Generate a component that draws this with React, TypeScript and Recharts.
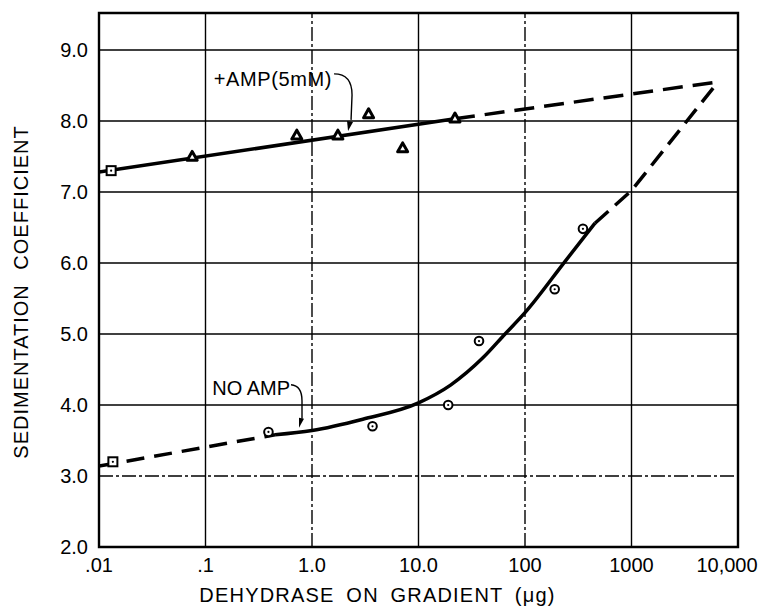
import React from 'react';
import {
    ComposedChart,
    XAxis,
    YAxis,
    Line,
    Scatter,
    ReferenceLine,
    ReferenceArea,
    ReferenceDot,
    Label
} from 'recharts';

// Axis ticks
const xTicks = [0.01, 0.1, 1, 10, 100, 1000, 10000];
const xTickLabels = ['.01', '.1', '1.0', '10.0', '100', '1000', '10,000'];
const yTicks = [2, 3, 4, 5, 6, 7, 8, 9];
const yTickLabels = ['2.0', '3.0', '4.0', '5.0', '6.0', '7.0', '8.0', '9.0'];

// Measured points, + AMP (5mM)
const ampPoints = [
    { x: 0.075, y: 7.5 },
    { x: 0.72, y: 7.8 },
    { x: 1.75, y: 7.8 },
    { x: 3.4, y: 8.1 },
    { x: 7.1, y: 7.62 },
    { x: 22, y: 8.04 }
];

// Measured points, no AMP
const noAmpPoints = [
    { x: 0.39, y: 3.62 },
    { x: 3.7, y: 3.7 },
    { x: 19, y: 4.0 },
    { x: 37, y: 4.9 },
    { x: 190, y: 5.63 },
    { x: 350, y: 6.48 }
];

// Square markers at the lowest load
const squarePoints = [
    { x: 0.013, y: 7.3 },
    { x: 0.0135, y: 3.2 }
];

// Drawn curves
const ampFit = [
    { x: 0.01, y: 7.28 },
    { x: 22, y: 8.03 }
];
const ampExtrap = [
    { x: 22, y: 8.03 },
    { x: 6500, y: 8.55 }
];
const noAmpExtrapLow = [
    { x: 0.01, y: 3.14 },
    { x: 0.45, y: 3.58 }
];
const noAmpFit = [
    { x: 0.45, y: 3.58 },
    { x: 1.0, y: 3.64 },
    { x: 3, y: 3.8 },
    { x: 10, y: 4.03 },
    { x: 20, y: 4.28 },
    { x: 40, y: 4.66 },
    { x: 65, y: 5.0 },
    { x: 100, y: 5.3 },
    { x: 240, y: 6.03 },
    { x: 454, y: 6.56 }
];
const noAmpExtrapHigh = [
    { x: 454, y: 6.56 },
    { x: 1000, y: 7.02 },
    { x: 6500, y: 8.55 }
];

const FONT = '"Liberation Sans", Arial, sans-serif';
const dashDotX = [1, 100];
const dashDotY = [3];

const XTick = (props: any) => {
    const { x, y, payload } = props;
    const label = xTickLabels[xTicks.indexOf(payload.value)];
    const shift = payload.value === 10000 ? -11 : 0;
    return (
        <text x={x + shift} y={y + 25} textAnchor="middle" fontSize={20} fontFamily={FONT} fill="#000">
            {label}
        </text>
    );
};

const YTick = (props: any) => {
    const { x, y, payload } = props;
    const label = yTickLabels[yTicks.indexOf(payload.value)];
    return (
        <text x={x - 11} y={y + 7} textAnchor="end" fontSize={20} fontFamily={FONT} fill="#000">
            {label}
        </text>
    );
};

const TriangleMark = (props: any) => {
    const { cx, cy } = props;
    return (
        <polygon
            points={`${cx},${cy - 5} ${cx + 5},${cy + 3.8} ${cx - 5},${cy + 3.8}`}
            fill="#fff"
            stroke="#000"
            strokeWidth={3}
            strokeLinejoin="round"
        />
    );
};

const CircleMark = (props: any) => {
    const { cx, cy } = props;
    return (
        <g>
            <circle cx={cx} cy={cy} r={4.3} fill="#fff" stroke="#000" strokeWidth={2} />
            <circle cx={cx} cy={cy} r={1.1} fill="#000" />
        </g>
    );
};

const SquareMark = (props: any) => {
    const { cx, cy } = props;
    return (
        <g>
            <rect x={cx - 4.5} y={cy - 4.5} width={9} height={9} fill="#fff" stroke="#000" strokeWidth={2} />
            <circle cx={cx} cy={cy} r={1.1} fill="#000" />
        </g>
    );
};

// Annotation text with a curved leader ending at the curve
const AmpNote = (props: any) => {
    const { cx, cy } = props;
    return (
        <g>
            <text x={cx - 16} y={cy - 45} textAnchor="end" fontSize={20} fontFamily={FONT} fill="#000" letterSpacing={0.6}>
                +AMP(5mM)
            </text>
            <path
                d={`M ${cx - 14} ${cy - 57} Q ${cx + 4} ${cy - 57} ${cx + 4} ${cy - 36} L ${cx + 3} ${cy - 11}`}
                fill="none"
                stroke="#000"
                strokeWidth={1.4}
            />
            <polygon points={`${cx},${cy} ${cx - 1},${cy - 10} ${cx + 5},${cy - 9}`} fill="#000" />
        </g>
    );
};

const NoAmpNote = (props: any) => {
    const { cx, cy } = props;
    return (
        <g>
            <text x={cx - 9} y={cy - 33} textAnchor="end" fontSize={20} fontFamily={FONT} fill="#000">
                NO AMP
            </text>
            <path
                d={`M ${cx - 8} ${cy - 43} Q ${cx + 3} ${cy - 42} ${cx + 3} ${cy - 27} L ${cx + 3} ${cy - 9}`}
                fill="none"
                stroke="#000"
                strokeWidth={1.4}
            />
            <polygon points={`${cx},${cy} ${cx},${cy - 10} ${cx + 5},${cy - 9}`} fill="#000" />
        </g>
    );
};

const App: React.FC = () => {
    return (
        <div style={{ position: 'absolute', left: 0, top: 0, width: 767, height: 609, background: '#fff' }}>
            <ComposedChart width={767} height={609} margin={{ top: 13, right: 29, left: 0, bottom: 0 }}>
                <XAxis
                    dataKey="x"
                    type="number"
                    scale="log"
                    domain={[0.01, 10000]}
                    ticks={xTicks}
                    allowDataOverflow
                    height={62}
                    tickSize={0}
                    tickMargin={0}
                    axisLine={false}
                    tickLine={false}
                    tick={<XTick />}
                    interval={0}
                >
                    <Label
                        content={(p: any) => {
                            const vb = p.viewBox || { x: 99, y: 547, width: 639 };
                            return (
                                <text
                                    x={vb.x + vb.width / 2 - 41}
                                    y={vb.y + 55}
                                    textAnchor="middle"
                                    fontSize={20}
                                    fontFamily={FONT}
                                    letterSpacing={1.2}
                                    wordSpacing={5}
                                    fill="#000"
                                >
                                    DEHYDRASE ON GRADIENT (μg)
                                </text>
                            );
                        }}
                    />
                </XAxis>
                <YAxis
                    type="number"
                    domain={[2, 9.52]}
                    ticks={yTicks}
                    allowDataOverflow
                    width={99}
                    tickSize={0}
                    tickMargin={0}
                    axisLine={false}
                    tickLine={false}
                    tick={<YTick />}
                    interval={0}
                >
                    <Label
                        content={(p: any) => {
                            const vb = p.viewBox || { x: 0, y: 13, width: 99, height: 534 };
                            const cx = vb.x + 28;
                            const cy = vb.y + vb.height / 2 + 12;
                            return (
                                <text
                                    x={cx}
                                    y={cy}
                                    transform={`rotate(-90 ${cx} ${cy})`}
                                    textAnchor="middle"
                                    fontSize={20}
                                    fontFamily={FONT}
                                    letterSpacing={1}
                                    wordSpacing={8}
                                    fill="#000"
                                >
                                    SEDIMENTATION COEFFICIENT
                                </text>
                            );
                        }}
                    />
                </YAxis>

                {/* grid */}
                {xTicks.slice(1, -1).map((v) => (
                    <ReferenceLine
                        key={'gx' + v}
                        x={v}
                        stroke="#000"
                        strokeWidth={1.4}
                        strokeDasharray={dashDotX.includes(v) ? '14 3 3 3' : undefined}
                    />
                ))}
                {yTicks.slice(1).map((v) => (
                    <ReferenceLine
                        key={'gy' + v}
                        y={v}
                        stroke="#000"
                        strokeWidth={1.4}
                        strokeDasharray={dashDotY.includes(v) ? '14 3 3 3' : undefined}
                    />
                ))}
                <ReferenceArea x1={0.01} x2={10000} y1={2} y2={9.52} fill="none" stroke="#000" strokeWidth={2.4} />

                {/* curves */}
                <Line data={ampFit} dataKey="y" type="linear" stroke="#000" strokeWidth={3.5} dot={false} isAnimationActive={false} />
                <Line data={ampExtrap} dataKey="y" type="linear" stroke="#000" strokeWidth={3.5} strokeDasharray="20 10" dot={false} isAnimationActive={false} />
                <Line data={noAmpExtrapLow} dataKey="y" type="linear" stroke="#000" strokeWidth={3.5} strokeDasharray="18 10" dot={false} isAnimationActive={false} />
                <Line data={noAmpFit} dataKey="y" type="monotone" stroke="#000" strokeWidth={3.5} dot={false} isAnimationActive={false} />
                <Line data={noAmpExtrapHigh} dataKey="y" type="linear" stroke="#000" strokeWidth={3.5} strokeDasharray="18 9" strokeLinejoin="miter" dot={false} isAnimationActive={false} />

                {/* data points */}
                <Scatter data={ampPoints} dataKey="y" shape={<TriangleMark />} isAnimationActive={false} />
                <Scatter data={noAmpPoints} dataKey="y" shape={<CircleMark />} isAnimationActive={false} />
                <Scatter data={squarePoints} dataKey="y" shape={<SquareMark />} isAnimationActive={false} />

                {/* annotations */}
                <ReferenceDot x={2.18} y={7.86} r={0} shape={<AmpNote />} />
                <ReferenceDot x={0.755} y={3.68} r={0} shape={<NoAmpNote />} />
            </ComposedChart>
        </div>
    );
};

export default App;
